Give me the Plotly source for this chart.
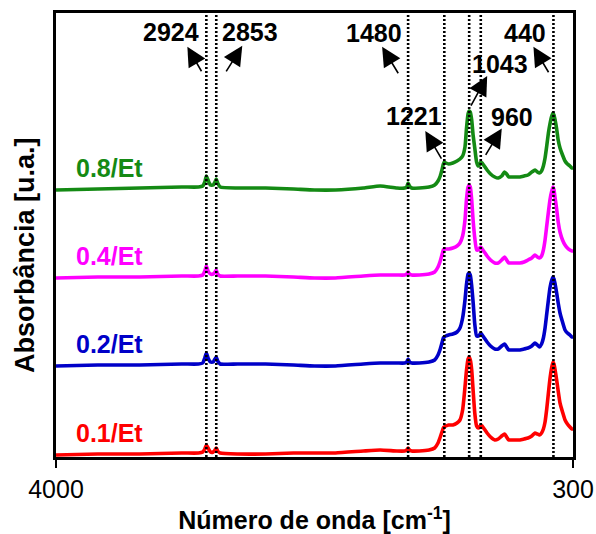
import plotly.graph_objects as go

# ---------------- data ----------------
WAVENUMBER = [4000, 3700, 3400, 3100, 2980, 2950, 2935, 2924, 2912, 2895,
              2875, 2862, 2853, 2843, 2825, 2700, 2500, 2300, 2150, 2000,
              1800, 1680, 1560, 1505, 1490, 1480, 1470, 1455, 1400, 1330,
              1290, 1266, 1250, 1238, 1228, 1221, 1210, 1190, 1160, 1130,
              1109, 1090, 1073, 1062, 1051, 1043, 1035, 1025, 1015, 1003,
              990, 978, 968, 960, 950, 935, 915, 890, 860, 835,
              810, 790, 775, 760, 740, 710, 680, 650, 622, 595,
              572, 555, 540, 525, 512, 500, 488, 476, 465, 452,
              443, 436, 428, 418, 406, 393, 375, 357, 340, 322,
              307, 300]

ABS_01 = [0, 1, 1, 2, 2, 3, 6, 10, 7, 3,
          3, 5, 7, 4, 2, 1, 1, 2, 2, 2,
          4, 5, 4, 4, 5, 7, 5, 4, 4, 5,
          7, 12, 18, 23, 27, 28, 29, 30, 30, 32,
          35, 45, 68, 85, 96, 98, 95, 85, 65, 42,
          29, 27, 28, 30, 29, 26, 22, 18, 15, 16,
          19, 21, 18, 15, 15, 15, 15, 16, 17, 19,
          22, 21, 20, 22, 26, 33, 46, 62, 76, 88,
          93, 91, 85, 76, 64, 52, 43, 35, 31, 28,
          26, 26]

ABS_02 = [0, 1, 1, 2, 2, 3, 8, 13, 8, 4,
          4, 7, 9, 5, 2, 2, 2, 1, 0, 0,
          2, 3, 3, 3, 4, 7, 4, 3, 3, 4,
          6, 11, 17, 23, 28, 29, 30, 31, 32, 34,
          38, 48, 66, 82, 92, 93, 91, 80, 64, 42,
          30, 30, 31, 33, 31, 28, 24, 20, 17, 17,
          20, 22, 19, 16, 16, 16, 16, 17, 18, 20,
          23, 21, 19, 22, 28, 38, 52, 66, 78, 86,
          89, 87, 82, 74, 63, 53, 44, 36, 33, 31,
          29, 29]

ABS_04 = [0, 1, 1, 2, 2, 3, 7, 12, 7, 4,
          4, 6, 8, 4, 2, 2, 2, 1, 0, 0,
          2, 3, 3, 3, 4, 6, 4, 3, 3, 4,
          6, 11, 17, 23, 28, 29, 29, 29, 30, 32,
          35, 42, 58, 79, 91, 93, 91, 78, 58, 40,
          28, 28, 30, 31, 29, 26, 22, 18, 15, 15,
          18, 21, 18, 15, 15, 15, 15, 16, 18, 20,
          23, 21, 20, 22, 28, 38, 52, 66, 78, 87,
          91, 88, 80, 70, 56, 46, 38, 33, 30, 28,
          27, 27]

ABS_08 = [0, 1, 2, 3, 3, 4, 8, 14, 10, 5,
          5, 8, 11, 7, 3, 2, 2, 1, 0, 0,
          2, 4, 2, 2, 3, 7, 4, 2, 2, 3,
          5, 9, 14, 20, 26, 28, 27, 26, 27, 29,
          31, 34, 43, 62, 76, 79, 78, 70, 55, 42,
          28, 24, 25, 28, 27, 24, 20, 16, 13, 12,
          14, 18, 16, 13, 13, 13, 13, 14, 15, 18,
          20, 18, 17, 19, 24, 32, 44, 57, 66, 74,
          77, 75, 70, 62, 50, 42, 35, 29, 26, 24,
          22, 22]

SERIES_NAMES = ["0.1/Et", "0.2/Et", "0.4/Et", "0.8/Et"]
SERIES_VALUES = [ABS_01, ABS_02, ABS_04, ABS_08]
SERIES_OFFSETS = [2, 91, 179, 267]          # vertical stacking (u.a.)
SERIES_COLORS = ["#ff0000", "#0000c8", "#ff00ff", "#148a14"]

BANDS = [2924, 2853, 1480, 1221, 1043, 960, 440]
BAND_LABELS = ["2924", "2853", "1480", "1221", "1043", "960", "440"]
X_TICKS = [4000, 300]
X_RANGE = [4000, 300]
Y_RANGE = [0, 444]

# label placement (pixel offsets from band line / paper y)
LABEL_DX = [-35, 34, -34, -30, 31, 31, -28]
LABEL_Y = [0.958, 0.958, 0.956, 0.768, 0.886, 0.766, 0.956]
ARROW_TIP_DX = [-19, 26, -26, -19, 18, 21, -20]
ARROW_TIP_Y = [0.924, 0.926, 0.924, 0.734, 0.858, 0.740, 0.924]
ARROW_TAIL = [(15, 26), (-17, 27), (17, 28), (17, 29), (-17, 31), (-17, 28), (16, 27)]

FONT = "Liberation Sans, Arial, sans-serif"

fig = go.Figure()

for name, vals, off, col in zip(SERIES_NAMES, SERIES_VALUES, SERIES_OFFSETS, SERIES_COLORS):
    fig.add_trace(go.Scatter(
        x=WAVENUMBER, y=[v + off for v in vals], mode="lines", name=name,
        line=dict(color=col, width=3.6, shape="spline", smoothing=0.5),
        showlegend=False, hoverinfo="skip"))
    fig.add_annotation(x=3617, y=off + 22, xref="x", yref="y",
                       xanchor="center", yanchor="middle",
                       text="<b>%s</b>" % name, showarrow=False,
                       font=dict(family=FONT, size=25, color=col))

for b in BANDS:
    fig.add_shape(type="line", xref="x", yref="paper", x0=b, x1=b, y0=0, y1=1,
                  line=dict(color="black", width=2.6, dash="2px,2px"), layer="above")

for b, lab, dx, ly, tdx, ty, (ax, ay) in zip(BANDS, BAND_LABELS, LABEL_DX, LABEL_Y,
                                            ARROW_TIP_DX, ARROW_TIP_Y, ARROW_TAIL):
    fig.add_annotation(x=b, y=ly, xref="x", yref="paper", xshift=dx,
                       xanchor="center", yanchor="middle",
                       text="<b>%s</b>" % lab, showarrow=False,
                       font=dict(family=FONT, size=25, color="black"))
    fig.add_annotation(x=b, y=ty, xref="x", yref="paper", xshift=tdx,
                       text="", showarrow=True, ax=ax, ay=ay,
                       arrowhead=2, arrowsize=2.4, arrowwidth=1.6,
                       arrowcolor="black", standoff=0, startstandoff=0)

# y axis title (placed as rotated text left of the frame)
fig.add_annotation(x=0, y=0.455, xref="paper", yref="paper", xshift=-31,
                   xanchor="center", yanchor="middle",
                   text="<b>Absorbância [u.a.]</b>", textangle=-90, showarrow=False,
                   font=dict(family=FONT, size=27, color="black"))

fig.update_layout(
    width=596, height=534,
    margin=dict(l=56, r=23, t=13, b=77),
    paper_bgcolor="white", plot_bgcolor="white",
    font=dict(family=FONT, size=25, color="black"),
    xaxis=dict(range=X_RANGE, tickvals=X_TICKS, ticktext=[str(t) for t in X_TICKS],
               ticks="outside", ticklen=8, tickwidth=2, tickcolor="black",
               showline=True, linecolor="black", linewidth=3, mirror=True,
               showgrid=False, zeroline=False, automargin=False,
               tickfont=dict(family=FONT, size=25, color="black"),
               title=dict(text="<b>Número de onda [cm<sup>-1</sup>]</b>",
                          font=dict(family=FONT, size=25, color="black"), standoff=10)),
    yaxis=dict(range=Y_RANGE, showticklabels=False, ticks="",
               showline=True, linecolor="black", linewidth=3, mirror=True,
               showgrid=False, zeroline=False, automargin=False),
)

fig.write_html("out.html")
